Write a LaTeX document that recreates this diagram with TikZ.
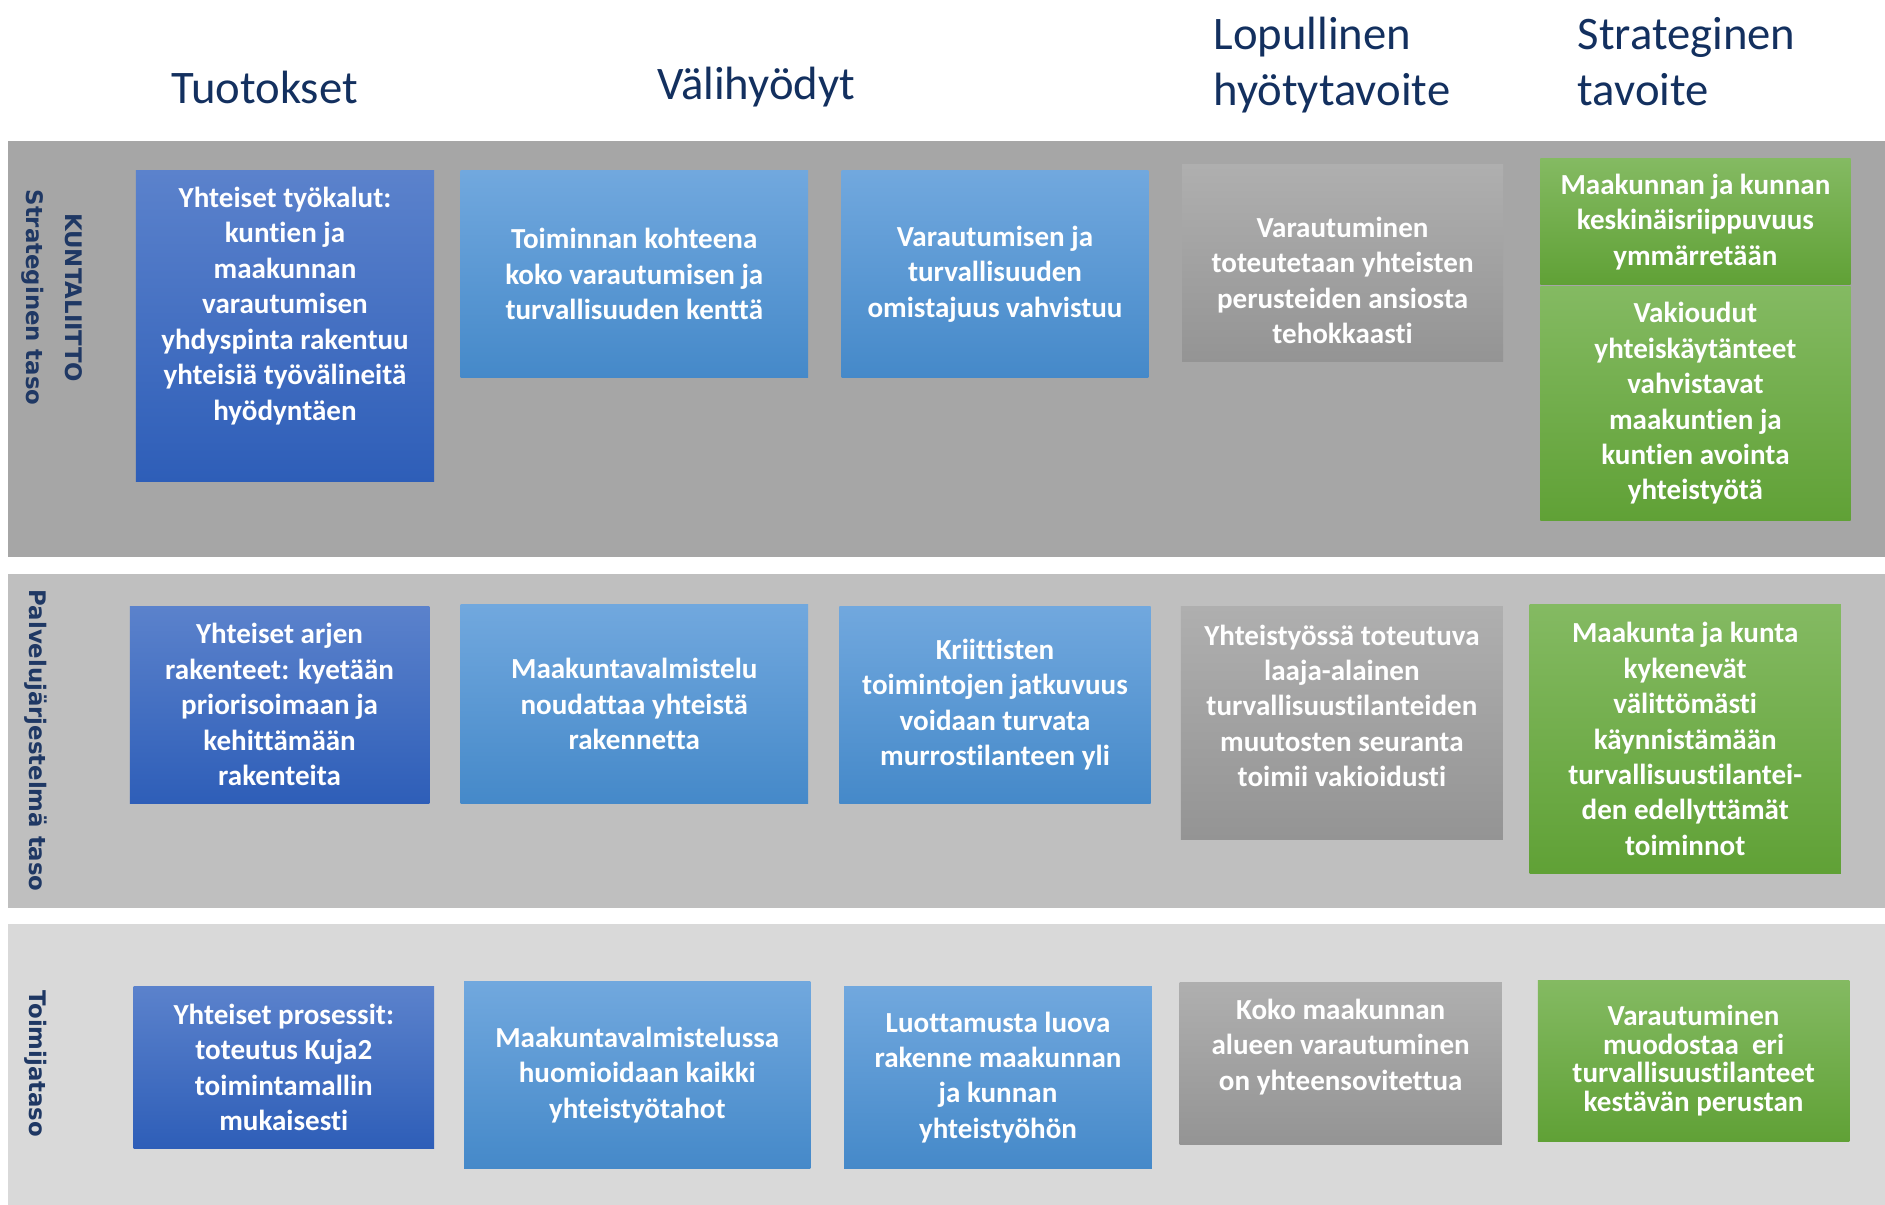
\documentclass[tikz,border=0pt]{standalone}
\usepackage{fontspec}
\setmainfont{Carlito}[Ligatures=NoCommon]
\newfontfamily\sidefont{DejaVu Sans}
\usepackage{tikz}
\usetikzlibrary{positioning}

\definecolor{navy}{HTML}{1F3864}
\definecolor{headblue}{HTML}{13305F}
\definecolor{bandone}{HTML}{A6A6A6}
\definecolor{bandtwo}{HTML}{BFBFBF}
\definecolor{bandthree}{HTML}{D9D9D9}
\definecolor{dbtop}{HTML}{5B82CC}
\definecolor{dbbot}{HTML}{2E5EB8}
\definecolor{lbtop}{HTML}{71A8DE}
\definecolor{lbbot}{HTML}{4589C9}
\definecolor{grtop}{HTML}{AFAFAF}
\definecolor{grbot}{HTML}{949494}
\definecolor{gntop}{HTML}{84BA62}
\definecolor{gnbot}{HTML}{60A136}

\begin{document}
\begin{tikzpicture}[x=1pt, y=-1pt,
      band/.style={rectangle, inner sep=0pt, anchor=north west},
      boxtext/.style={align=center, text=white, inner sep=0pt,
        font=\bfseries\fontsize{21.8}{26.6}\selectfont},
      box/.style={rectangle, boxtext},
      darkblue/.style={box, top color=dbtop, bottom color=dbbot},
      lightblue/.style={box, top color=lbtop, bottom color=lbbot},
      greybox/.style={box, top color=grtop, bottom color=grbot},
      greenbox/.style={box, top color=gntop, bottom color=gnbot},
      head/.style={text=headblue, inner sep=0pt, align=left,
        font=\fontsize{35}{42.4}\selectfont},
      side/.style={rotate=-90, text=navy, inner sep=0pt, align=center,
        font=\sidefont\bfseries\fontsize{17.1}{29}\selectfont}]

      \useasboundingbox (0,0) rectangle (1413.75,903.75);

      % Bands
      \node[band, fill=bandone, minimum width=1407.75pt, minimum height=312pt] (strat) at (6,105.75) {};
      \node[band, fill=bandtwo, minimum width=1407.75pt, minimum height=250.8pt] (palv) at (6,430.1) {};
      \node[band, fill=bandthree, minimum width=1407.75pt, minimum height=211.15pt] (toim) at (6,692.6) {};

      \node[side] (stratlbl) at (39,223.2) {KUNTALIITTO\\Strateginen taso};
      \node[side] (palvlbl) at (27,555.5) {Palvelujärjestelmä taso};
      \node[side] (toimlbl) at (27,798) {Toimijataso};

      % Column headings
      \node[head, anchor=base] (tuot) at (198.4,77.6) {Tuotokset};
      \node[head, anchor=base] (vali) at (567.2,74.9) {Välihyödyt};
      \node[head, anchor=base west] (lopu) at (909.9,79.4) {Lopullinen\\hyötytavoite};
      \node[head, anchor=base west] (tavo) at (1183.1,79.4) {Strateginen\\tavoite};

      % Strateginen taso
      \node[darkblue, minimum width=223.7pt, minimum height=232.7pt,
        label={[boxtext, yshift=14.9pt]center:{Yhteiset työkalut:\\kuntien ja\\maakunnan\\varautumisen\\yhdyspinta rakentuu\\yhteisiä työvälineitä\\hyödyntäen}}] (a1) at (213.75,244.4) {};
      \node[lightblue, minimum width=260.6pt, minimum height=155.1pt] (b1) at (475.7,205.6)
        {Toiminnan kohteena\\koko varautumisen ja\\turvallisuuden kenttä};
      \node[lightblue, minimum width=230pt, minimum height=155.1pt] (c1) at (746.25,205.6)
        {Varautumisen ja\\turvallisuuden\\omistajuus vahvistuu};
      \node[greybox, minimum width=240.75pt, minimum height=147.9pt,
        label={[boxtext, yshift=-12.7pt]center:{Varautuminen\\toteutetaan yhteisten\\perusteiden ansiosta\\tehokkaasti}}] (d1) at (1006.9,197.5) {};
      \node[greenbox, minimum width=232.65pt, minimum height=94.7pt] (e1) at (1271.55,166.4)
        {Maakunnan ja kunnan\\keskinäisriippuvuus\\ymmärretään};
      \node[greenbox, minimum width=232.65pt, minimum height=175.8pt] (f1) at (1271.55,302.55)
        {Vakioudut\\yhteiskäytänteet\\vahvistavat\\maakuntien ja\\kuntien avointa\\yhteistyötä};

      % Palvelujärjestelmä taso
      \node[darkblue, minimum width=224.55pt, minimum height=147.9pt] (a2) at (209.7,528.45)
        {Yhteiset arjen\\rakenteet: kyetään\\priorisoimaan ja\\kehittämään\\rakenteita};
      \node[lightblue, minimum width=260.6pt, minimum height=148.8pt] (b2) at (475.7,528)
        {Maakuntavalmistelu\\noudattaa yhteistä\\rakennetta};
      \node[lightblue, minimum width=233.55pt, minimum height=147.9pt] (c2) at (746.25,528.45)
        {Kriittisten\\toimintojen jatkuvuus\\voidaan turvata\\murrostilanteen yli};
      \node[greybox, minimum width=241.65pt, minimum height=175pt,
        label={[boxtext, yshift=12.6pt]center:{Yhteistyössä toteutuva\\laaja-alainen\\turvallisuustilanteiden\\muutosten seuranta\\toimii vakioidusti}}] (d2) at (1006.4,542) {};
      \node[greenbox, minimum width=233.55pt, minimum height=201.15pt] (e2) at (1263.9,554.2)
        {Maakunta ja kunta\\kykenevät\\välittömästi\\käynnistämään\\turvallisuustilantei-\\den edellyttämät\\toiminnot};

      % Toimijataso
      \node[darkblue, minimum width=225.45pt, minimum height=121.7pt] (a3) at (212.85,800.4)
        {Yhteiset prosessit:\\toteutus Kuja2\\toimintamallin\\mukaisesti};
      \node[lightblue, minimum width=259.7pt, minimum height=140.6pt] (b3) at (477.95,806.2)
        {Maakuntavalmistelussa\\huomioidaan kaikki\\yhteistyötahot};
      \node[lightblue, minimum width=230.85pt, minimum height=137pt] (c3) at (748.5,808)
        {Luottamusta luova\\rakenne maakunnan\\ja kunnan\\yhteistyöhön};
      \node[greybox, minimum width=241.65pt, minimum height=121.7pt,
        label={[boxtext, yshift=12.6pt]center:{Koko maakunnan\\alueen varautuminen\\on yhteensovitettua}}] (d3) at (1005.5,797.7) {};
      \node[greenbox, minimum width=233.55pt, minimum height=120.8pt,
        font=\bfseries\fontsize{21.8}{21.5}\selectfont] (e3) at (1270.2,795.4)
        {Varautuminen\\muodostaa\ \ eri\\turvallisuustilanteet\\kestävän perustan};
    \end{tikzpicture}
\end{document}
